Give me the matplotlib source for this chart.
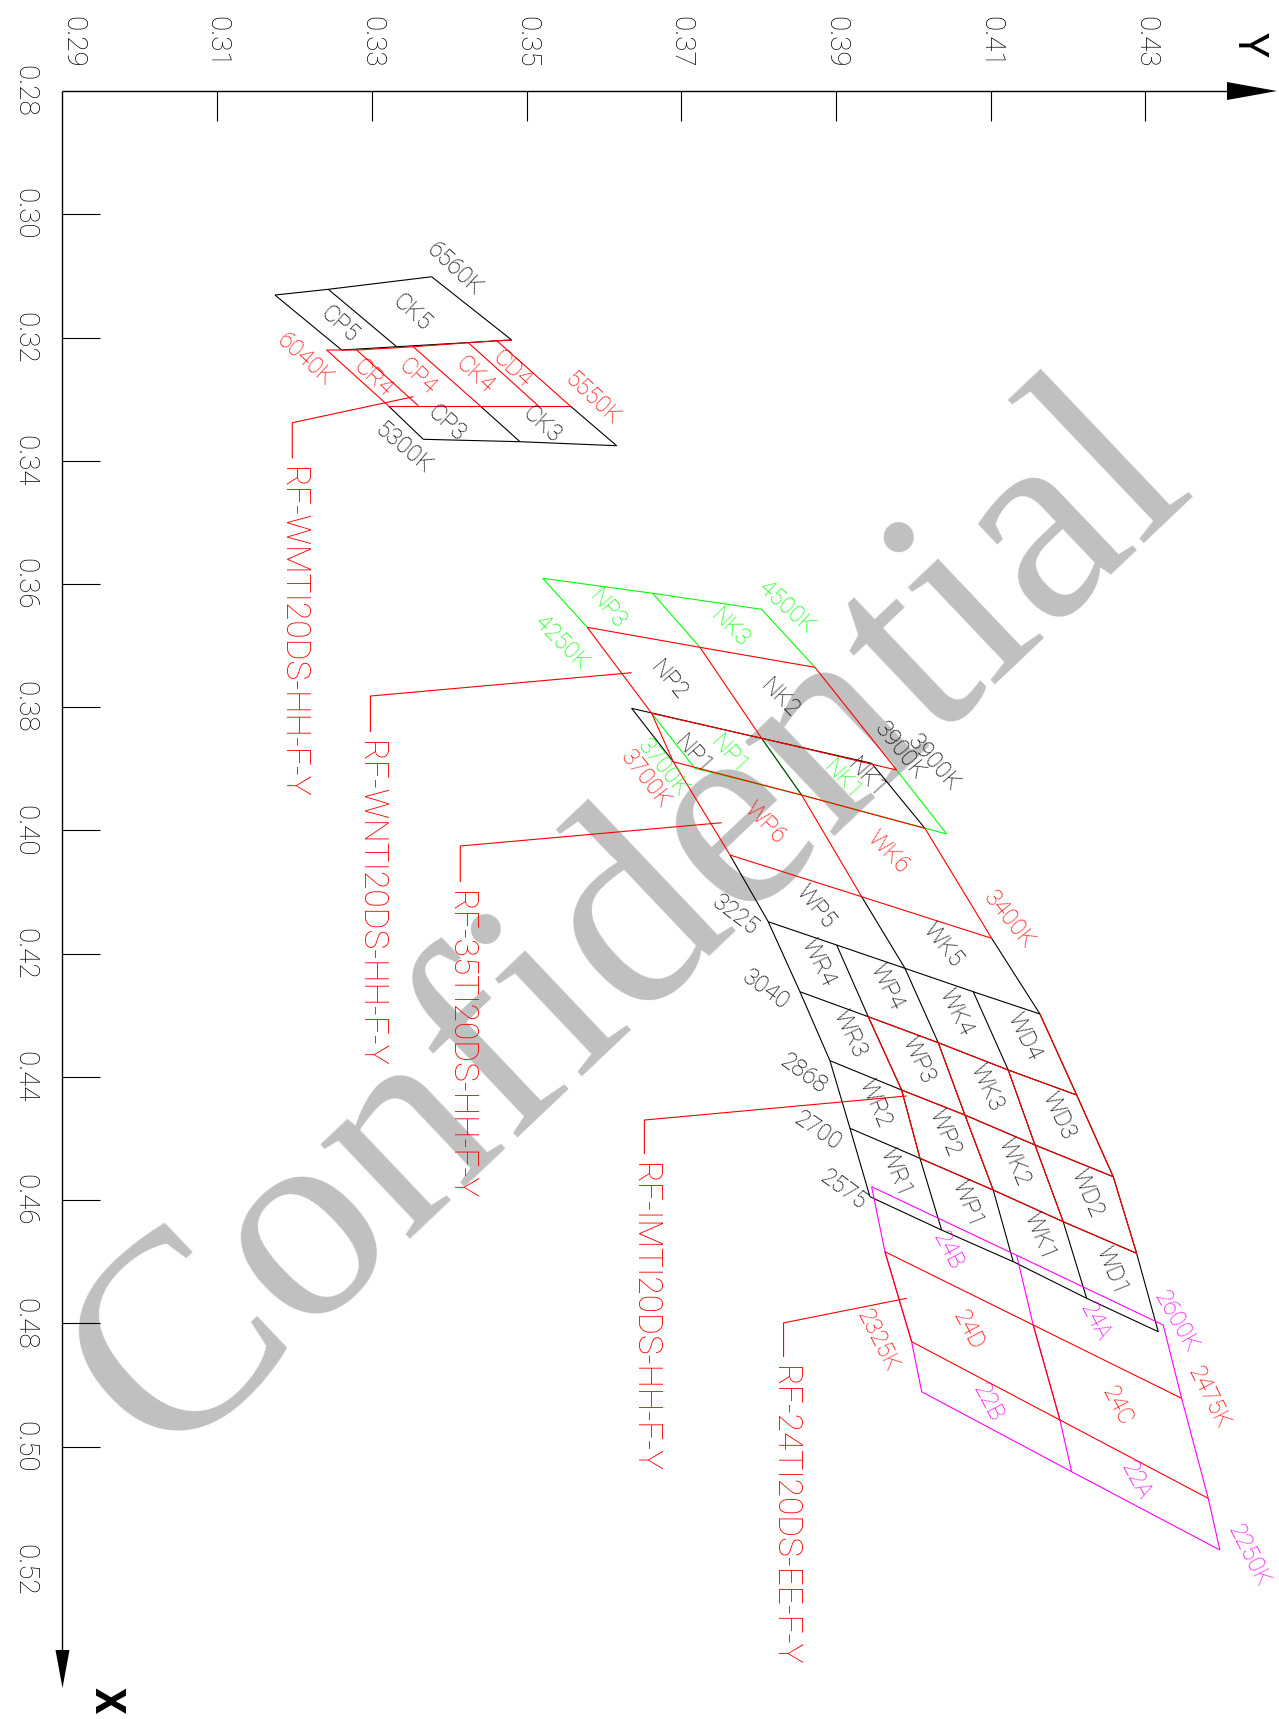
"""
Chromaticity bin map (CIE x down, CIE y across), drawn like the CAD export.
"""

import matplotlib
matplotlib.use("Agg")
import matplotlib.pyplot as plt
from matplotlib import font_manager
import numpy as np

# ---------------- axes ----------------
Y_TICKS = [0.29, 0.31, 0.33, 0.35, 0.37, 0.39, 0.41, 0.43]
X_TICKS = [0.28, 0.30, 0.32, 0.34, 0.36, 0.38, 0.40, 0.42, 0.44, 0.46, 0.48, 0.50, 0.52]

# ---------------- C group (6560K .. 5300K) ----------------
C_6560K_X = [0.31311, 0.31218, 0.31014]
C_6560K_Y = [0.31747, 0.32437, 0.33773]
C_6040K_BLK_X = [0.32203, 0.32150, 0.32041]
C_6040K_BLK_Y = [0.32610, 0.33321, 0.34808]
C_6040K_RED_X = [0.32203, 0.32203, 0.32150, 0.32085, 0.32052, 0.32041]
C_6040K_RED_Y = [0.32416, 0.32804, 0.33536, 0.34247, 0.34614, 0.34808]
C_5550K_X = [0.33107, 0.33107, 0.33107, 0.33107, 0.33107]
C_5550K_Y = [0.33212, 0.33600, 0.34398, 0.35152, 0.35561]
C_5300K_X = [0.33652, 0.33691, 0.33756]
C_5300K_Y = [0.33665, 0.34915, 0.36165]

# ---------------- N group (4500K .. 3700K) ----------------
N_4500K_X = [0.35908, 0.36151, 0.36411]
N_4500K_Y = [0.35209, 0.36631, 0.38040]
N_4250K_X = [0.36703, 0.37028, 0.37352]
N_4250K_Y = [0.35785, 0.37242, 0.38729]
N_3900K_RED_X = [0.38099, 0.38504, 0.39019]
N_3900K_RED_Y = [0.36618, 0.38040, 0.39785]
N_3900K_BLK_X = [0.38018, 0.38504, 0.38910]
N_3900K_BLK_Y = [0.36359, 0.38040, 0.39462]
N_3700K_RED_X = [0.38884, 0.39425, 0.39965]
N_3700K_RED_Y = [0.36897, 0.38557, 0.40151]
N_3700K_GRN_X = [0.38991, 0.39425, 0.40057]
N_3700K_GRN_Y = [0.37178, 0.38557, 0.40432]

# ---------------- W group (3400K .. 2575K) ----------------
W_3400K_X = [0.40398, 0.41075, 0.41750]
W_3400K_Y = [0.37630, 0.39333, 0.41014]
W_3225_X = [0.41481, 0.41859, 0.42237, 0.42617, 0.42978]
W_3225_Y = [0.38125, 0.39010, 0.39893, 0.40776, 0.41638]
W_3040_X = [0.42617, 0.43022, 0.43444, 0.43887, 0.44293]
W_3040_Y = [0.38535, 0.39418, 0.40323, 0.41228, 0.42113]
W_2868_X = [0.43736, 0.44212, 0.44618, 0.45104, 0.45619]
W_2868_Y = [0.38923, 0.39850, 0.40668, 0.41574, 0.42586]
W_2700_X = [0.44833, 0.45320, 0.45835, 0.46349, 0.46862]
W_2700_Y = [0.39182, 0.40087, 0.41034, 0.41939, 0.42888]
W_2575_X = [0.45943, 0.46484, 0.46998, 0.47592, 0.48134]
W_2575_Y = [0.39440, 0.40367, 0.41293, 0.42242, 0.43168]

# ---------------- 24 group (2600K .. 2250K) ----------------
E_2600K_X = [0.45781, 0.46894, 0.48025]
E_2600K_Y = [0.39462, 0.41337, 0.43232]
E_2475K_X = [0.46836, 0.48025, 0.49215]
E_2475K_Y = [0.39634, 0.41551, 0.43470]
E_2325K_X = [0.48296, 0.49567, 0.50838]
E_2325K_Y = [0.39979, 0.41897, 0.43814]
E_2250K_X = [0.49108, 0.50406, 0.51677]
E_2250K_Y = [0.40109, 0.42048, 0.43965]

# ---------------- part number leaders ----------------
LEADER_NAMES = ["RF-WMTI20DS-HH-F-Y", "RF-WNTI20DS-HH-F-Y", "RF-35TI20DS-HH-F-Y",
                "RF-IMTI20DS-HH-F-Y", "RF-24TI20DS-EE-F-Y"]
LEADER_START_X = [0.32961, 0.37440, 0.39874, 0.44309, 0.47592]
LEADER_START_Y = [0.33536, 0.36359, 0.37523, 0.39915, 0.39915]
LEADER_BEND_X = [0.33383, 0.37818, 0.40252, 0.44699, 0.47991]
LEADER_BEND_Y = [0.31971, 0.32981, 0.34143, 0.36523, 0.38323]
LEADER_END_X = [0.33961, 0.38402, 0.40836, 0.45250, 0.48545]

BLACK, RED, GREEN, MAGENTA = "#000000", "#ff0000", "#00ff00", "#ff00ff"
LW = 0.8

W, H = 1279, 1719
Y_MIN, Y_MAX = 0.28192, 0.44729
X_MIN, X_MAX = 0.26523, 0.54419
SY = (Y_MAX - Y_MIN) / W   # CIE y per pixel
SX = (X_MAX - X_MIN) / H   # CIE x per pixel

names = {f.name for f in font_manager.fontManager.ttflist}
CAD_FONT = next((n for n in ["Roboto", "Open Sans", "Lato", "DejaVu Sans"] if n in names), "DejaVu Sans")
SERIF_FONT = "Liberation Serif" if "Liberation Serif" in names else "DejaVu Serif"
plt.rcParams["font.family"] = [CAD_FONT, "DejaVu Sans"]

fig = plt.figure(figsize=(W / 100, H / 100), dpi=100)
ax = fig.add_axes([0, 0, 1, 1])
ax.set_xlim(Y_MIN, Y_MAX)
ax.set_ylim(X_MAX, X_MIN)
ax.axis("off")


def pt(xs, ys, i):
    return (xs[i], ys[i])


def line(points, color, z=2, lw=LW):
    points = list(points)
    ax.plot([p[1] for p in points], [p[0] for p in points], color=color, lw=lw,
            solid_capstyle="butt", zorder=z)


def row(xs, ys, a=0, b=None):
    b = len(xs) if b is None else b
    return [(xs[i], ys[i]) for i in range(a, b)]


C65 = (C_6560K_X, C_6560K_Y)
C60B = (C_6040K_BLK_X, C_6040K_BLK_Y)
C60R = (C_6040K_RED_X, C_6040K_RED_Y)
C55 = (C_5550K_X, C_5550K_Y)
C53 = (C_5300K_X, C_5300K_Y)
N45 = (N_4500K_X, N_4500K_Y)
N42 = (N_4250K_X, N_4250K_Y)
N39R = (N_3900K_RED_X, N_3900K_RED_Y)
N39B = (N_3900K_BLK_X, N_3900K_BLK_Y)
N37R = (N_3700K_RED_X, N_3700K_RED_Y)
N37G = (N_3700K_GRN_X, N_3700K_GRN_Y)
W34 = (W_3400K_X, W_3400K_Y)
W_ROWS = [(W_3225_X, W_3225_Y), (W_3040_X, W_3040_Y), (W_2868_X, W_2868_Y),
          (W_2700_X, W_2700_Y), (W_2575_X, W_2575_Y)]
E26 = (E_2600K_X, E_2600K_Y)
E24 = (E_2475K_X, E_2475K_Y)
E23 = (E_2325K_X, E_2325K_Y)
E22 = (E_2250K_X, E_2250K_Y)

# ---------------- black outlines ----------------
line(row(*C65), BLACK)
line(row(*C60B), BLACK)
for i in range(3):
    line([pt(*C65, i), pt(*C60B, i)], BLACK)
line(row(*C53), BLACK)
for j, k in [(0, 0), (2, 1), (4, 2)]:
    line([pt(*C55, j), pt(*C53, k)], BLACK)

line(row(*N39B), BLACK)
line([pt(*N39B, 0), pt(*N37R, 0)], BLACK)
line([pt(*N39B, 2), pt(*N37R, 2)], BLACK)

for r in W_ROWS:
    line(row(*r), BLACK)
for c, top in [(0, 0), (2, 1), (4, 2)]:
    line([pt(*W34, top)] + [pt(*r, c) for r in W_ROWS], BLACK)
for c in (1, 3):
    line([pt(*r, c) for r in W_ROWS], BLACK)

# ---------------- green outline ----------------
line(row(*N45), GREEN)
for i in range(3):
    line([pt(*N45, i), pt(*N42, i)], GREEN)
    line([pt(*N39R, i), pt(*N37G, i)], GREEN)
line(row(*N37G), GREEN)
line([pt(*N39B, 1), pt(*N37R, 1)], "#1a3a1a")

# ---------------- magenta outline ----------------
line(row(*E26), MAGENTA)
line(row(*E22), MAGENTA)
for i in range(3):
    line([pt(*E26, i), pt(*E24, i), pt(*E23, i), pt(*E22, i)], MAGENTA)

# ---------------- red outlines ----------------
line(row(*C60R), RED)
line(row(*C55), RED)
for i in range(5):
    line([pt(*C60R, i), pt(*C55, i)], RED)

line(row(*N42), RED)
line(row(*N39R), RED)
for i in range(3):
    line([pt(*N42, i), pt(*N39R, i)], RED)
line([pt(*N39R, 0), pt(*N37R, 0)], RED)
line(row(*N37R), RED)
line(row(*W34), RED)
for i in range(3):
    line([pt(*N37R, i), pt(*W34, i)], RED)

for r in W_ROWS[1:4]:
    line(row(*r, 1), RED)
for c in (1, 2, 3):
    line([pt(*r, c) for r in W_ROWS[1:4]], RED)
line([pt(*r, 4) for r in W_ROWS[0:4]], RED)

line(row(*E24), RED)
line(row(*E23), RED)
for i in range(2):
    line([pt(*E24, i), pt(*E23, i)], RED)

for i in range(len(LEADER_NAMES)):
    line([(LEADER_START_X[i], LEADER_START_Y[i]), (LEADER_BEND_X[i], LEADER_BEND_Y[i]),
          (LEADER_END_X[i], LEADER_BEND_Y[i])], RED)
    ax.annotate(LEADER_NAMES[i], (LEADER_BEND_Y[i], LEADER_END_X[i]), xytext=(0, -9),
                textcoords="offset pixels", rotation=-90, ha="center", va="top",
                color=RED, fontsize=24, fontweight="light", zorder=4)

# ---------------- bin labels ----------------
def centroid(corners):
    return np.mean([c[0] for c in corners]), np.mean([c[1] for c in corners])


def bin_label(text, color, rot, corners, off=(0, -5), size=17):
    cx, cy = centroid(corners)
    ax.annotate(text, (cy, cx), xytext=(off[0], -off[1]), textcoords="offset pixels",
                rotation=rot, rotation_mode="anchor", ha="center", va="center",
                color=color, fontsize=size, fontweight="light", zorder=4)


bin_label("CP5", BLACK, -42, [pt(*C65, 0), pt(*C65, 1), pt(*C60B, 1), pt(*C60B, 0)], (4, 4))
bin_label("CK5", BLACK, -42, [pt(*C65, 1), pt(*C65, 2), pt(*C60B, 2), pt(*C60B, 1)], (-5, -1))
c_names = ["CR4", "CP4", "CK4", "CD4"]
for i, name in enumerate(c_names):
    bin_label(name, RED, -43, [pt(*C60R, i), pt(*C60R, i + 1), pt(*C55, i + 1), pt(*C55, i)],
              (-6, -5) if name == "CD4" else (0, 0))
bin_label("CP3", BLACK, -42, [pt(*C55, 0), pt(*C55, 2), pt(*C53, 1), pt(*C53, 0)], (-6, 0))
bin_label("CK3", BLACK, -42, [pt(*C55, 2), pt(*C55, 4), pt(*C53, 2), pt(*C53, 1)], (-5, 0))

bin_label("NP3", GREEN, -50, [pt(*N45, 0), pt(*N45, 1), pt(*N42, 1), pt(*N42, 0)], (-13, -2))
bin_label("NK3", GREEN, -45, [pt(*N45, 1), pt(*N45, 2), pt(*N42, 2), pt(*N42, 1)], (-2, -1))
bin_label("NP2", BLACK, -50, [pt(*N42, 0), pt(*N42, 1), pt(*N39R, 1), pt(*N39R, 0)], (-6, -1))
bin_label("NK2", BLACK, -46, [pt(*N42, 1), pt(*N42, 2), pt(*N39R, 2), pt(*N39R, 1)], (-13, -7))
np1 = [pt(*N39B, 0), pt(*N39B, 1), pt(*N37R, 1), pt(*N37R, 0)]
nk1 = [pt(*N39B, 1), pt(*N39B, 2), pt(*N37R, 2), pt(*N37R, 1)]
bin_label("NP1", BLACK, -48, np1, (-24, 4))
bin_label("NP1", GREEN, -48, np1, (12, 4))
bin_label("NK1", GREEN, -48, nk1, (3, -1))
bin_label("NK1", BLACK, -48, nk1, (27, -3))
bin_label("WP6", RED, -46, [pt(*N37R, 0), pt(*N37R, 1), pt(*W34, 1), pt(*W34, 0)], (-2, -4))
bin_label("WK6", RED, -46, [pt(*N37R, 1), pt(*N37R, 2), pt(*W34, 2), pt(*W34, 1)], (-7, -12))

bin_label("WP5", BLACK, -51, [pt(*W34, 0), pt(*W34, 1), pt(*W_ROWS[0], 2), pt(*W_ROWS[0], 0)], (-1, -4))
bin_label("WK5", BLACK, -51, [pt(*W34, 1), pt(*W34, 2), pt(*W_ROWS[0], 4), pt(*W_ROWS[0], 2)], (-7, -9))
w_cols = ["WR", "WP", "WK", "WD"]
w_rots = [-64, -65, -67, -68]
for k in range(4):
    for c, prefix in enumerate(w_cols):
        a, b = W_ROWS[k], W_ROWS[k + 1]
        bin_label(f"{prefix}{4 - k}", BLACK, w_rots[k],
                  [pt(*a, c), pt(*a, c + 1), pt(*b, c + 1), pt(*b, c)], (0, -6))

e_bins = [("24B", MAGENTA, E26, E24, 0), ("24A", MAGENTA, E26, E24, 1),
          ("24D", RED, E24, E23, 0), ("24C", RED, E24, E23, 1),
          ("22B", MAGENTA, E23, E22, 0), ("22A", MAGENTA, E23, E22, 1)]
for name, col, a, b, c in e_bins:
    bin_label(name, col, -62, [pt(*a, c), pt(*a, c + 1), pt(*b, c + 1), pt(*b, c)], (-4, -4))

# ---------------- CCT labels at the grid ends ----------------
cct_labels = [
    ("6560K", BLACK, -43, pt(*C65, 2), (23, -8)),
    ("6040K", RED, -42, pt(*C60R, 0), (-22, 10)),
    ("5550K", RED, -43, pt(*C55, 4), (23, -7)),
    ("5300K", BLACK, -40, pt(*C53, 0), (-20, 9)),
    ("4500K", GREEN, -42, pt(*N45, 2), (25, -2)),
    ("4250K", GREEN, -45, pt(*N42, 0), (-26, 16)),
    ("3900K", BLACK, -51, pt(*N39B, 2), (28, -12)),
    ("3900K", BLACK, -49, pt(*N39R, 2), (37, -7)),
    ("3700K", GREEN, -51, pt(*N37G, 0), (-32, 0)),
    ("3700K", RED, -52, pt(*N37R, 0), (-28, 18)),
    ("3400K", RED, -51, pt(*W34, 2), (17, -18)),
    ("3225", BLACK, -37, pt(*W_ROWS[0], 0), (-33, -6)),
    ("3040", BLACK, -36, pt(*W_ROWS[1], 0), (-34, -2)),
    ("2868", BLACK, -36, pt(*W_ROWS[2], 0), (-27, 13)),
    ("2700", BLACK, -34, pt(*W_ROWS[3], 0), (-32, 3)),
    ("2575", BLACK, -36, pt(*W_ROWS[4], 0), (-27, -7)),
    ("2600K", MAGENTA, -60, pt(*E26, 2), (13, -3)),
    ("2475K", RED, -63, pt(*E24, 2), (27, -1)),
    ("2325K", RED, -63, pt(*E23, 0), (-34, -1)),
    ("2250K", MAGENTA, -63, pt(*E22, 2), (29, 6)),
]
for text, col, rot, node, off in cct_labels:
    ax.annotate(text, (node[1], node[0]), xytext=(off[0], -off[1]), textcoords="offset pixels",
                rotation=rot, rotation_mode="anchor", ha="center", va="center",
                color=col, fontsize=17, fontweight="light", zorder=4)

# ---------------- axes drawn CAD style ----------------
x0, y0 = X_TICKS[0], Y_TICKS[0]
y_tip, y_base = Y_MAX - 2 * SY, Y_MAX - 52 * SY
x_tip, x_base = X_MIN + 1688 * SX, X_MIN + 1650 * SX
line([(x0, y0), (x0, y_base)], BLACK, lw=1.0)
line([(x0, y0), (x_base, y0)], BLACK, lw=1.0)
ax.fill([y_base, y_tip, y_base], [x0 - 9 * SX, x0, x0 + 9 * SX], color=BLACK, zorder=3, lw=0)
ax.fill([y0 - 7 * SY, y0, y0 + 7 * SY], [x_base, x_tip, x_base], color=BLACK, zorder=3, lw=0)

for t in Y_TICKS[1:]:
    line([(x0, t), (x0 + 30 * SX, t)], BLACK)
for t in X_TICKS[1:-1]:
    line([(t, y0), (t, y0 + 38 * SY)], BLACK)

for t in Y_TICKS:
    ax.annotate(f"{t:.2f}", (t, x0), xytext=(10 if t == Y_TICKS[0] else 0, 75),
                textcoords="offset pixels", rotation=-90, ha="center", va="top",
                color=BLACK, fontsize=20, fontweight="light")
for t in X_TICKS:
    ax.annotate(f"{t:.2f}", (y0, t), xytext=(-38, 0), textcoords="offset pixels",
                rotation=-90, ha="center", va="center", color=BLACK, fontsize=20,
                fontweight="light")

ax.text(1249 / W, 1 - 44 / H, "Y", transform=ax.transAxes, rotation=-90, ha="center",
        va="center", fontsize=30, color=BLACK)
ax.text(106 / W, 1 - 1700 / H, "X", transform=ax.transAxes, rotation=-90, ha="center",
        va="center", fontsize=30, color=BLACK, fontweight="bold")

# ---------------- watermark ----------------
ax.text(Y_MIN + 632 * SY, X_MIN + 924 * SX, "Confidential", family=SERIF_FONT,
        fontsize=205, color="#c0c0c0", rotation=43.5, rotation_mode="anchor",
        ha="center", va="center", zorder=0)

fig.savefig("out.png", dpi=100)
